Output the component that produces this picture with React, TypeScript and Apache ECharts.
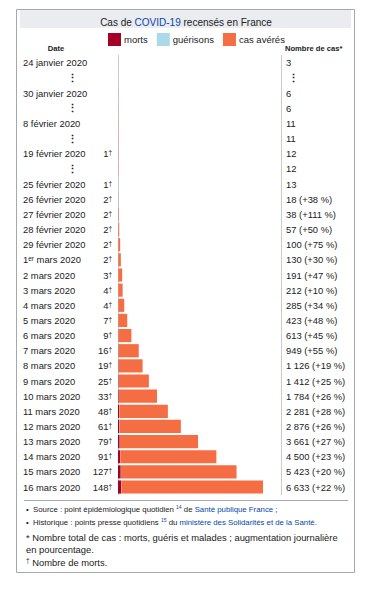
import React, { useEffect, useRef } from "react";
import * as echarts from "echarts";

const FONT = '"Liberation Sans", Arial, sans-serif';
const TEXT = "#202122";
const LINK = "#0645ad";

const dates = [
  "24 janvier 2020", "⋮", "30 janvier 2020", "⋮", "8 février 2020", "⋮",
  "19 février 2020", "⋮", "25 février 2020", "26 février 2020", "27 février 2020",
  "28 février 2020", "29 février 2020", "1er mars 2020", "2 mars 2020", "3 mars 2020",
  "4 mars 2020", "5 mars 2020", "6 mars 2020", "7 mars 2020", "8 mars 2020",
  "9 mars 2020", "10 mars 2020", "11 mars 2020", "12 mars 2020", "13 mars 2020",
  "14 mars 2020", "15 mars 2020", "16 mars 2020",
];
const totals = [
  3, null, 6, 6, 11, 11, 12, 12, 13, 18, 38, 57, 100, 130, 191, 212, 285, 423, 613,
  949, 1126, 1412, 1784, 2281, 2876, 3661, 4500, 5423, 6633,
];
const deaths = [
  0, 0, 0, 0, 0, 0, 1, 1, 1, 2, 2, 2, 2, 2, 3, 4, 4, 7, 9, 16, 19, 25, 33, 48, 61, 79,
  91, 127, 148,
];
const recovered = [
  0, 0, 0, 0, 0, 0, 0, 0, 12, 12, 12, 12, 12, 12, 12, 12, 12, 12, 12, 12, 12, 12, 12,
  12, 12, 12, 12, 12, 12,
];
const dailyPct = [
  null, null, null, null, null, null, null, null, null, 38, 111, 50, 75, 30, 47, 10,
  34, 48, 45, 55, 19, 25, 26, 28, 26, 27, 23, 20, 22,
];

const fmt = (n: number) => String(n).replace(/\B(?=(\d{3})+(?!\d))/g, " ");

export default function App() {
  const ref = useRef<HTMLDivElement>(null);
  useEffect(() => {
    if (!ref.current) return;
    const chart = echarts.init(ref.current, null, { renderer: "svg" });
    const cats = dates.map((_, i) => "r" + i);
    const active = totals.map((t, i) =>
      t == null ? null : Math.max(0, t - deaths[i] - recovered[i])
    );
    const gridTop = 55.4;
    const gridBottomY = 494.6;
    const common = {
      type: "category" as const,
      data: cats,
      inverse: true,
      axisTick: { show: false },
      splitLine: { show: false },
    };
    chart.setOption({
      animation: false,
      backgroundColor: "#ffffff",
      title: {
        text: "Cas de {l|COVID-19} recensés en France",
        left: "center",
        top: 12,
        textStyle: {
          fontSize: 10,
          fontWeight: "normal",
          color: TEXT,
          fontFamily: FONT,
          rich: { l: { color: LINK, fontSize: 10, fontFamily: FONT } },
        },
      },
      legend: {
        data: ["morts", "guérisons", "cas avérés"],
        left: 103,
        top: 28,
        icon: "rect",
        itemWidth: 13,
        itemHeight: 13,
        itemGap: 9,
        textStyle: { fontSize: 9.5, color: TEXT, fontFamily: FONT, padding: [0, 0, 0, -2] },
      },
      grid: { left: 118, right: 91, top: gridTop, bottom: 616 - gridBottomY },
      xAxis: { type: "value", min: 0, max: 7456, show: false },
      yAxis: [
        {
          ...common,
          position: "left",
          axisLine: { show: true, lineStyle: { color: "#c8ccd1", width: 1 } },
          axisLabel: {
            align: "left",
            margin: 95,
            fontSize: 9.4,
            color: TEXT,
            fontFamily: FONT,
            formatter: (_v: string, i: number) => {
              const d = dates[i];
              if (d === "⋮") return "{e|⋮}";
              if (d.startsWith("1er")) return "1{s|er}" + d.slice(3);
              return d;
            },
            rich: {
              e: { padding: [0, 0, 0, 44], fontSize: 10.5, fontWeight: "bold", fontFamily: FONT, color: TEXT },
              s: { fontSize: 6.5, verticalAlign: "top", lineHeight: 9, fontFamily: FONT, color: TEXT },
            },
          },
        },
        {
          ...common,
          position: "left",
          axisLine: { show: false },
          axisLabel: {
            align: "right",
            margin: 6,
            fontSize: 9.4,
            color: TEXT,
            fontFamily: FONT,
            formatter: (_v: string, i: number) => {
              if (dates[i] === "⋮" || !deaths[i]) return "";
              return deaths[i] + "{s|†}";
            },
            rich: {
              s: { fontSize: 6.5, verticalAlign: "top", lineHeight: 9, fontFamily: FONT, color: TEXT },
            },
          },
        },
        {
          ...common,
          position: "right",
          axisLine: { show: true, lineStyle: { color: "#c8ccd1", width: 1 } },
          axisLabel: {
            align: "left",
            margin: 5,
            fontSize: 9.4,
            color: TEXT,
            fontFamily: FONT,
            formatter: (_v: string, i: number) => {
              const t = totals[i];
              if (t == null) return "{e|⋮}";
              const p = dailyPct[i];
              return fmt(t) + (p == null ? "" : ` (+${p} %)`);
            },
            rich: { e: { padding: [0, 0, 0, 2], fontSize: 10.5, fontWeight: "bold", fontFamily: FONT, color: TEXT } },
          },
        },
      ],
      series: [
        {
          name: "morts",
          type: "bar",
          stack: "c",
          yAxisIndex: 0,
          barCategoryGap: "13%",
          itemStyle: { color: "#A50026" },
          data: totals.map((t, i) => (t == null ? null : deaths[i])),
        },
        {
          name: "guérisons",
          type: "bar",
          stack: "c",
          yAxisIndex: 0,
          itemStyle: { color: "#ABD9E9" },
          data: totals.map((t, i) => (t == null ? null : recovered[i])),
        },
        {
          name: "cas avérés",
          type: "bar",
          stack: "c",
          yAxisIndex: 0,
          itemStyle: { color: "#F46D43" },
          data: active,
        },
      ],
      graphic: [
        {
          type: "rect",
          z: -10,
          shape: { x: 16.5, y: 9.5, width: 338, height: 563 },
          style: { fill: "none", stroke: "#a2a9b1", lineWidth: 1 },
          silent: true,
        },
        {
          type: "rect",
          z: -9,
          shape: { x: 20, y: 10, width: 331, height: 18 },
          style: { fill: "#eaecf0" },
          silent: true,
        },
        {
          type: "text",
          x: 56,
          y: 48,
          style: {
            text: "Date",
            fontSize: 7.6,
            fontWeight: "bold",
            fontFamily: FONT,
            fill: TEXT,
            align: "center",
            verticalAlign: "middle",
          },
        },
        {
          type: "text",
          x: 285,
          y: 48,
          style: {
            text: "Nombre de cas*",
            fontSize: 7.6,
            fontWeight: "bold",
            fontFamily: FONT,
            fill: TEXT,
            align: "left",
            verticalAlign: "middle",
          },
        },
        {
          type: "line",
          shape: { x1: 24, y1: 500.5, x2: 348, y2: 500.5 },
          style: { stroke: "#a2a9b1", lineWidth: 1 },
        },
        {
          type: "text",
          x: 26,
          y: 509,
          style: {
            text: "•  Source : point épidémiologique quotidien {u|14} de {l|Santé publique France} ;",
            fontSize: 7.8,
            fontFamily: FONT,
            fill: TEXT,
            verticalAlign: "middle",
            rich: {
              u: { fontSize: 5, verticalAlign: "top", lineHeight: 10, fill: LINK, fontFamily: FONT },
              l: { fill: LINK, fontSize: 7.8, fontFamily: FONT },
            },
          },
        },
        {
          type: "text",
          x: 26,
          y: 522,
          style: {
            text: "•  Historique : points presse quotidiens {u|15} du {l|ministère des Solidarités et de la Santé}.",
            fontSize: 7.8,
            fontFamily: FONT,
            fill: TEXT,
            verticalAlign: "middle",
            rich: {
              u: { fontSize: 5, verticalAlign: "top", lineHeight: 10, fill: LINK, fontFamily: FONT },
              l: { fill: LINK, fontSize: 7.8, fontFamily: FONT },
            },
          },
        },
        {
          type: "text",
          x: 26,
          y: 537,
          style: {
            text: "* Nombre total de cas : morts, guéris et malades ; augmentation journalière",
            fontSize: 9.4,
            fontFamily: FONT,
            fill: TEXT,
            verticalAlign: "middle",
          },
        },
        {
          type: "text",
          x: 26,
          y: 549.5,
          style: {
            text: "en pourcentage.",
            fontSize: 9.4,
            fontFamily: FONT,
            fill: TEXT,
            verticalAlign: "middle",
          },
        },
        {
          type: "text",
          x: 26,
          y: 562,
          style: {
            text: "{s|†} Nombre de morts.",
            fontSize: 9.4,
            fontFamily: FONT,
            fill: TEXT,
            verticalAlign: "middle",
            rich: { s: { fontSize: 6.5, verticalAlign: "top", lineHeight: 11, fontFamily: FONT, fill: TEXT } },
          },
        },
      ],
    });
    return () => chart.dispose();
  }, []);
  return (
    <div
      ref={ref}
      style={{ position: "fixed", left: 0, top: 0, width: 372, height: 616 }}
    />
  );
}
